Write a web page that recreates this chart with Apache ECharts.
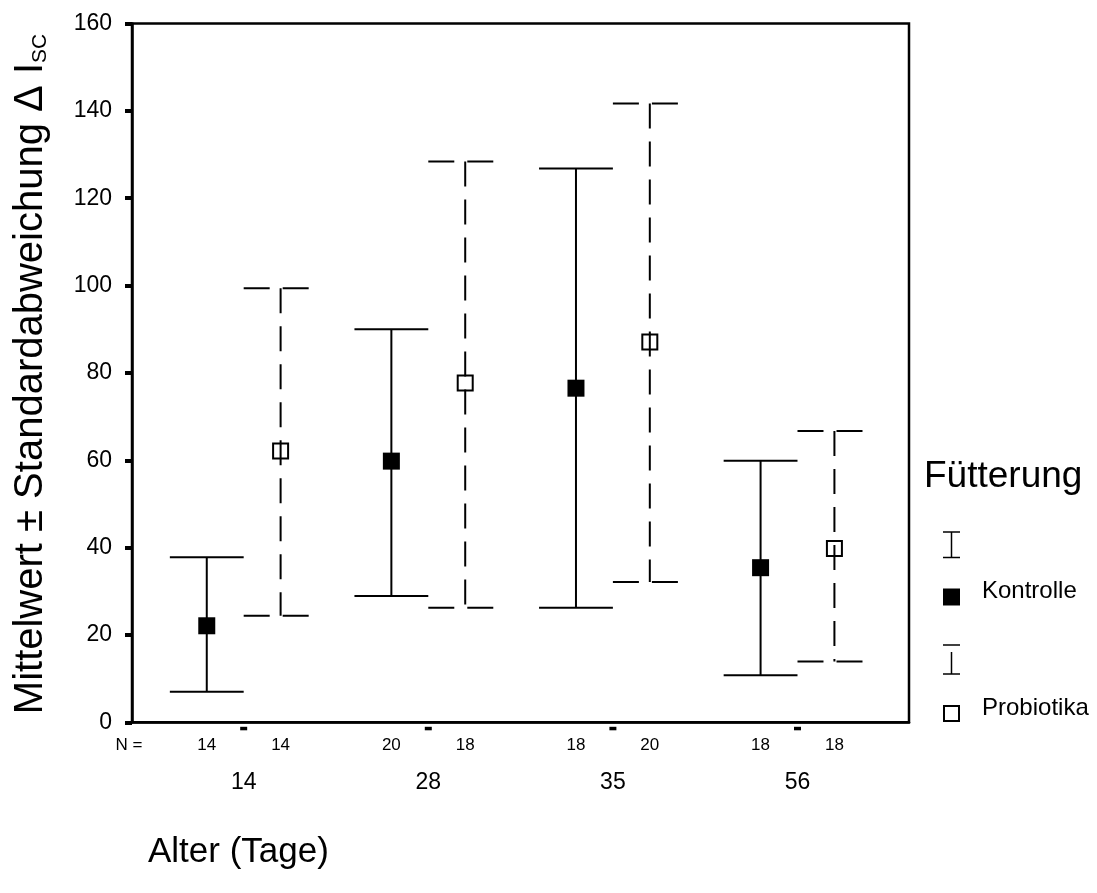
<!DOCTYPE html>
<html>
<head>
<meta charset="utf-8">
<script src="https://cdn.jsdelivr.net/npm/echarts@6/dist/echarts.min.js"></script>
<style>
  html, body { margin: 0; padding: 0; background: #fff; }
  #chart { width: 1097px; height: 893px; }
</style>
</head>
<body>
<div id="chart"></div>
<script>
// Age groups (days) on the x axis
const ageGroups = ['14', '28', '35', '56'];

// Kontrolle: mean, mean - SD, mean + SD, N
const kontrolleMean = [22.1, 59.8, 76.5, 35.4];
const kontrolleLow  = [7.0, 28.9, 26.2, 10.8];
const kontrolleHigh = [37.8, 90.0, 126.8, 59.9];
const kontrolleN    = [14, 20, 18, 18];

// Probiotika: mean, mean - SD, mean + SD, N
const probiotikaMean = [62.1, 77.7, 87.1, 39.8];
const probiotikaLow  = [24.4, 26.2, 32.1, 13.9];
const probiotikaHigh = [99.4, 128.4, 141.7, 66.7];
const probiotikaN    = [14, 18, 20, 18];

// y axis ticks
const yMin = 0, yMax = 160, yStep = 20;

const FONT = '"Liberation Sans", Arial, sans-serif';
const GROUP_OFFSET = 0.2;   // horizontal shift of each series within an age group
const CAP_HALF = 0.2;       // half width of the error bar caps (x units)

function seriesData(mean, low, high, n, shift) {
  return ageGroups.map((g, i) => [i + 1 + shift, mean[i], low[i], high[i], n[i]]);
}

function errorBarItem(dashed) {
  return function (params, api) {
    const x = api.value(0);
    const mean = api.value(1), lo = api.value(2), hi = api.value(3), n = api.value(4);
    const pTop = api.coord([x, hi]);
    const pBot = api.coord([x, lo]);
    const pMid = api.coord([x, mean]);
    const xl = api.coord([x - CAP_HALF, hi])[0];
    const xr = api.coord([x + CAP_HALF, hi])[0];
    const base = api.coord([x, yMin]);
    const line = { stroke: '#000', lineWidth: 2, lineDash: dashed ? [25, 13] : null };
    const capLine = { stroke: '#000', lineWidth: 2, lineDash: dashed ? [26, 13] : null };
    const children = [
      { type: 'line', shape: { x1: pTop[0], y1: pTop[1], x2: pBot[0], y2: pBot[1] }, style: line },
      { type: 'line', shape: { x1: xl, y1: pTop[1], x2: xr, y2: pTop[1] }, style: capLine },
      { type: 'line', shape: { x1: xl, y1: pBot[1], x2: xr, y2: pBot[1] }, style: capLine }
    ];
    if (dashed) {
      children.push({ type: 'rect', shape: { x: pMid[0] - 7.5, y: pMid[1] - 7.5, width: 15, height: 15 },
        style: { fill: 'rgba(0,0,0,0)', stroke: '#000', lineWidth: 2 } });
    } else {
      children.push({ type: 'rect', shape: { x: pMid[0] - 8.5, y: pMid[1] - 8.5, width: 17, height: 17 },
        style: { fill: '#000' } });
    }
    // sample size under the axis
    children.push({ type: 'text', x: base[0], y: base[1] + 23,
      style: { text: String(n), fill: '#000', font: '17px ' + FONT, textAlign: 'center', textVerticalAlign: 'middle' } });
    return { type: 'group', children: children };
  };
}

function axisExtrasItem(params, api) {
  const g = api.value(0);
  const p = api.coord([g, yMin]);
  return { type: 'group', children: [
    { type: 'rect', shape: { x: p[0] - 3.5, y: p[1] + 4.5, width: 7, height: 3.5 }, style: { fill: '#000' } },
    { type: 'text', x: p[0], y: p[1] + 60,
      style: { text: ageGroups[params.dataIndex], fill: '#000', font: '23px ' + FONT, textAlign: 'center', textVerticalAlign: 'middle' } }
  ]};
}

const chart = echarts.init(document.getElementById('chart'), null, { renderer: 'canvas' });

chart.setOption({
  backgroundColor: '#fff',
  animation: false,
  grid: { left: 132, right: 188, top: 23.5, bottom: 170.7, show: true, borderColor: '#000', borderWidth: 2.5 },
  xAxis: {
    type: 'value', min: 0.395, max: 4.604,
    axisLine: { show: true, onZero: false, lineStyle: { color: '#000', width: 2.5 } },
    axisTick: { show: false }, axisLabel: { show: false }, splitLine: { show: false }
  },
  yAxis: {
    type: 'value', min: yMin, max: yMax, interval: yStep,
    axisLine: { show: true, lineStyle: { color: '#000', width: 2.5 } },
    axisTick: { show: true, length: 7, lineStyle: { color: '#000', width: 4 } },
    axisLabel: { color: '#000', fontSize: 23, fontFamily: FONT, margin: 20 },
    splitLine: { show: false }
  },
  series: [
    { name: 'Kontrolle', type: 'custom', clip: false, renderItem: errorBarItem(false),
      data: seriesData(kontrolleMean, kontrolleLow, kontrolleHigh, kontrolleN, -GROUP_OFFSET) },
    { name: 'Probiotika', type: 'custom', clip: false, renderItem: errorBarItem(true),
      data: seriesData(probiotikaMean, probiotikaLow, probiotikaHigh, probiotikaN, GROUP_OFFSET) },
    { name: 'Alter', type: 'custom', clip: false, renderItem: axisExtrasItem, silent: true,
      data: ageGroups.map((g, i) => [i + 1]) }
  ],
  graphic: [
    // y axis title
    { type: 'text', x: 31, y: 374, rotation: Math.PI / 2, silent: true,
      style: {
        text: '{m|Mittelwert ± Standardabweichung Δ I}{s|SC}',
        textAlign: 'center', textVerticalAlign: 'middle', fill: '#000',
        rich: {
          m: { fontSize: 40, fontFamily: FONT, lineHeight: 40 },
          s: { fontSize: 21, fontFamily: FONT, lineHeight: 21, verticalAlign: 'bottom' }
        }
      } },
    // x axis title
    { type: 'text', x: 148, y: 852, silent: true,
      style: { text: 'Alter (Tage)', font: '35px ' + FONT, fill: '#000', textAlign: 'left', textVerticalAlign: 'middle' } },
    { type: 'text', x: 129, y: 745.5, silent: true,
      style: { text: 'N =', font: '17px ' + FONT, fill: '#000', textAlign: 'center', textVerticalAlign: 'middle' } },
    // legend
    { type: 'text', x: 924, y: 477, silent: true,
      style: { text: 'Fütterung', font: '37px ' + FONT, fill: '#000', textAlign: 'left', textVerticalAlign: 'middle' } },
    { type: 'line', silent: true, shape: { x1: 951.5, y1: 532, x2: 951.5, y2: 557.5 }, style: { stroke: '#000', lineWidth: 1.5 } },
    { type: 'line', silent: true, shape: { x1: 943, y1: 532, x2: 960, y2: 532 }, style: { stroke: '#000', lineWidth: 1.5 } },
    { type: 'line', silent: true, shape: { x1: 943, y1: 557.5, x2: 960, y2: 557.5 }, style: { stroke: '#000', lineWidth: 1.5 } },
    { type: 'rect', silent: true, shape: { x: 943, y: 588.5, width: 17, height: 17 }, style: { fill: '#000' } },
    { type: 'text', x: 982, y: 591, silent: true,
      style: { text: 'Kontrolle', font: '24px ' + FONT, fill: '#000', textAlign: 'left', textVerticalAlign: 'middle' } },
    { type: 'line', silent: true, shape: { x1: 951.5, y1: 674, x2: 951.5, y2: 645 }, style: { stroke: '#000', lineWidth: 1.5, lineDash: [22, 8] } },
    { type: 'line', silent: true, shape: { x1: 943, y1: 645, x2: 960, y2: 645 }, style: { stroke: '#000', lineWidth: 1.5 } },
    { type: 'line', silent: true, shape: { x1: 943, y1: 674, x2: 960, y2: 674 }, style: { stroke: '#000', lineWidth: 1.5 } },
    { type: 'rect', silent: true, shape: { x: 944, y: 706, width: 15, height: 15 }, style: { fill: 'rgba(0,0,0,0)', stroke: '#000', lineWidth: 2 } },
    { type: 'text', x: 982, y: 708, silent: true,
      style: { text: 'Probiotika', font: '24px ' + FONT, fill: '#000', textAlign: 'left', textVerticalAlign: 'middle' } }
  ]
});
</script>
</body>
</html>
